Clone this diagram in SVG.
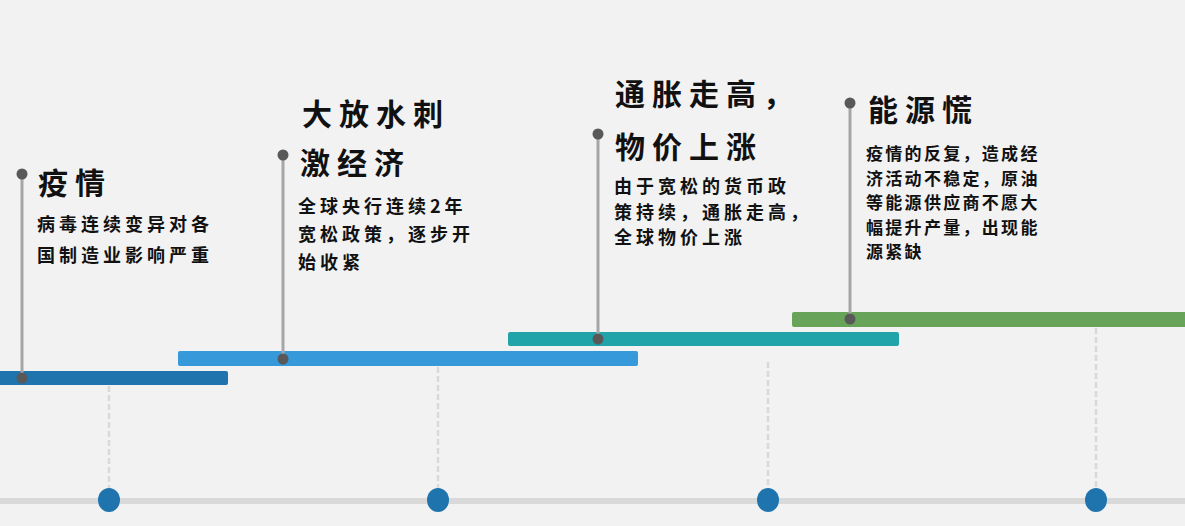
<svg xmlns="http://www.w3.org/2000/svg" width="1185" height="526" viewBox="0 0 1185 526">
<style>
.title{font-family:"Noto Sans CJK SC","Noto Sans CJK TC",sans-serif;font-size:30px;font-weight:700;fill:#111;letter-spacing:7px}
.body{font-family:"Noto Sans CJK SC","Noto Sans CJK TC",sans-serif;font-size:18px;font-weight:700;fill:#111;letter-spacing:4px}
.body4{font-family:"Noto Sans CJK SC","Noto Sans CJK TC",sans-serif;font-size:17px;font-weight:700;fill:#111;letter-spacing:2.3px}
.stem{stroke:#a6a6a6;stroke-width:3}
.dot{fill:#595959}
.dash{stroke:#d9d9d9;stroke-width:2.5;stroke-dasharray:6 3}
.mark{fill:#2074ae}
</style>
<rect width="1185" height="526" fill="#f2f2f2"/>
<g id="connectors">
<rect x="0" y="498" width="1185" height="6" fill="#d9d9d9"/>
<line class="dash" x1="109" y1="386" x2="109" y2="489"/>
<line class="dash" x1="438" y1="367" x2="438" y2="489"/>
<line class="dash" x1="768" y1="362" x2="768" y2="489"/>
<line class="dash" x1="1096" y1="328" x2="1096" y2="489"/>
<ellipse class="mark" cx="109" cy="500" rx="11" ry="12"/>
<ellipse class="mark" cx="438" cy="500" rx="11" ry="12"/>
<ellipse class="mark" cx="768" cy="500" rx="11" ry="12"/>
<ellipse class="mark" cx="1096" cy="500" rx="11" ry="12"/>
</g>
<g id="node1">
<rect x="-4" y="371" width="232" height="14" rx="2" fill="#2074ad"/>
<line class="stem" x1="22" y1="174" x2="22" y2="378"/>
<circle class="dot" cx="22" cy="174" r="5.5"/>
<circle class="dot" cx="22" cy="378" r="5.5"/>
<text class="title" x="38" y="194">疫情</text>
<text class="body" x="37" y="231">病毒连续变异对各</text>
<text class="body" x="37" y="262">国制造业影响严重</text>
</g>
<g id="node2">
<rect x="178" y="351" width="460" height="15" rx="2" fill="#3599da"/>
<line class="stem" x1="283" y1="155" x2="283" y2="359"/>
<circle class="dot" cx="283" cy="155" r="5.5"/>
<circle class="dot" cx="283" cy="359" r="5.5"/>
<text class="title" x="302" y="125">大放水刺</text>
<text class="title" x="300" y="174">激经济</text>
<text class="body" x="298" y="213">全球央行连续2年</text>
<text class="body" x="298" y="241">宽松政策，逐步开</text>
<text class="body" x="298" y="269">始收紧</text>
</g>
<g id="node3">
<rect x="508" y="332" width="391" height="14" rx="2" fill="#20a4a9"/>
<line class="stem" x1="598" y1="134" x2="598" y2="339"/>
<circle class="dot" cx="598" cy="134" r="5.5"/>
<circle class="dot" cx="598" cy="339" r="5.5"/>
<text class="title" x="615" y="105">通胀走高，</text>
<text class="title" x="615" y="158">物价上涨</text>
<text class="body" x="614" y="193">由于宽松的货币政</text>
<text class="body" x="614" y="219">策持续，通胀走高，</text>
<text class="body" x="614" y="244">全球物价上涨</text>
</g>
<g id="node4">
<rect x="792" y="312" width="396" height="15" rx="2" fill="#67a45a"/>
<line class="stem" x1="850" y1="103" x2="850" y2="319"/>
<circle class="dot" cx="850" cy="103" r="5.5"/>
<circle class="dot" cx="850" cy="319" r="5.5"/>
<text class="title" x="868" y="121">能源慌</text>
<text class="body4" x="866" y="160">疫情的反复，造成经</text>
<text class="body4" x="866" y="185">济活动不稳定，原油</text>
<text class="body4" x="866" y="209">等能源供应商不愿大</text>
<text class="body4" x="866" y="234">幅提升产量，出现能</text>
<text class="body4" x="866" y="258">源紧缺</text>
</g>
</svg>
